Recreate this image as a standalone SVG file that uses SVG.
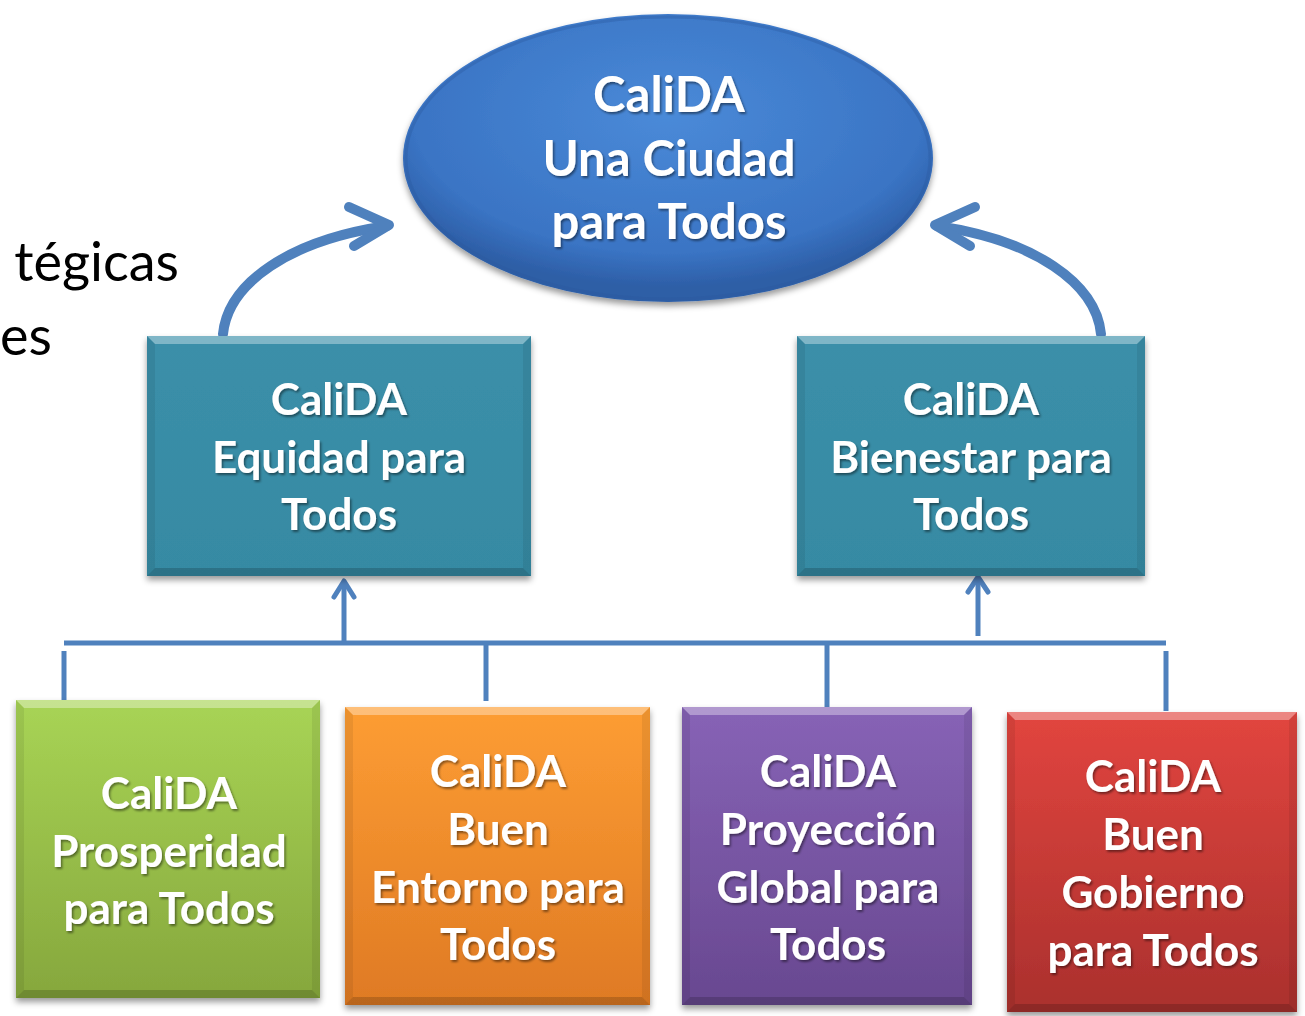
<svg xmlns="http://www.w3.org/2000/svg" width="1305" height="1016" viewBox="0 0 1305 1016">
<defs>
<style>
.lbl{font-family:Lato,"Open Sans","Liberation Sans",sans-serif;font-weight:bold;fill:#fff;text-anchor:middle;filter:url(#tsh)}
.side{font-family:Lato,"Open Sans","Liberation Sans",sans-serif;fill:#000;font-size:54px}
.con{fill:none;stroke:#4f81bd;stroke-width:5}
.arc{fill:none;stroke:#4f81bd;stroke-width:10;stroke-linecap:round;stroke-linejoin:round}
.hi{fill:#fff;opacity:.35}
.lo{fill:#000;opacity:.17}
.sd{fill:#000;opacity:.07}
</style>
<filter id="sh" x="-10%" y="-10%" width="120%" height="125%"><feDropShadow dx="0" dy="4" stdDeviation="3" flood-color="#000" flood-opacity=".4"/></filter>
<filter id="tsh" x="-10%" y="-10%" width="120%" height="130%"><feDropShadow dx="1.5" dy="2" stdDeviation="1.2" flood-color="#000" flood-opacity=".45"/></filter>
<radialGradient id="gE" cx="50%" cy="35%" r="60%"><stop offset="0" stop-color="#4a8ad8"/><stop offset="0.8" stop-color="#3a74c4"/><stop offset="1" stop-color="#2d5ea6"/></radialGradient>
<linearGradient id="gT" x1="0" y1="0" x2="0" y2="1"><stop offset="0" stop-color="#3b8fa9"/><stop offset="1" stop-color="#368aa3"/></linearGradient>
<linearGradient id="gG" x1="0" y1="0" x2="0" y2="1"><stop offset="0" stop-color="#a8d455"/><stop offset="1" stop-color="#86a73d"/></linearGradient>
<linearGradient id="gO" x1="0" y1="0" x2="0" y2="1"><stop offset="0" stop-color="#fd9d33"/><stop offset="1" stop-color="#df7a24"/></linearGradient>
<linearGradient id="gP" x1="0" y1="0" x2="0" y2="1"><stop offset="0" stop-color="#8763b6"/><stop offset="1" stop-color="#684890"/></linearGradient>
<linearGradient id="gR" x1="0" y1="0" x2="0" y2="1"><stop offset="0" stop-color="#e2453f"/><stop offset="1" stop-color="#aa302d"/></linearGradient>
</defs>
<rect width="1305" height="1016" fill="#fff"/>

<text class="side" x="179" y="281" text-anchor="end">tégicas</text>
<text class="side" x="0" y="355" font-size="50">es</text>

<g id="connectors">
<path class="arc" d="M223,334 C228,283 290,240 387,226"/>
<path class="arc" d="M349,207 L389,225 L354,246"/>
<path class="arc" d="M1101,334 C1096,283 1034,240 937,226"/>
<path class="arc" d="M975,207 L935,225 L970,246"/>
<path class="con" d="M64,643 H1166"/>
<path class="con" d="M64,651 V700"/>
<path class="con" d="M486,643 V701"/>
<path class="con" d="M827,643 V707"/>
<path class="con" d="M1166,651 V711"/>
<path class="con" d="M344,643 V581"/>
<path class="con" d="M334,597 L344,581 L354,597" stroke-linecap="round" stroke-linejoin="round"/>
<path class="con" d="M978,636 V577"/>
<path class="con" d="M968,592 L978,577 L988,592" stroke-linecap="round" stroke-linejoin="round"/>
</g>

<g id="n-ciudad">
<ellipse cx="668" cy="158" rx="265" ry="144" fill="url(#gE)" filter="url(#sh)"/>
<ellipse cx="668" cy="158" rx="262" ry="141" fill="none" stroke="#2a5a9e" stroke-opacity=".35" stroke-width="3"/>
<text class="lbl" font-size="49"><tspan x="669" y="112">CaliDA</tspan><tspan x="669" y="176">Una Ciudad</tspan><tspan x="669" y="239">para Todos</tspan></text>
</g>

<g id="n-equidad">
<rect x="147" y="336" width="384" height="240" fill="url(#gT)" filter="url(#sh)"/>
<polygon class="hi" points="147,336 531,336 523,344 155,344"/>
<polygon class="lo" points="147,576 531,576 523,568 155,568"/>
<polygon class="sd" points="147,336 155,344 155,568 147,576"/>
<polygon class="sd" points="531,336 523,344 523,568 531,576"/>
<text class="lbl" font-size="44"><tspan x="339" y="415">CaliDA</tspan><tspan x="339" y="473">Equidad para</tspan><tspan x="339" y="530">Todos</tspan></text>
</g>

<g id="n-bienestar">
<rect x="797" y="336" width="348" height="240" fill="url(#gT)" filter="url(#sh)"/>
<polygon class="hi" points="797,336 1145,336 1137,344 805,344"/>
<polygon class="lo" points="797,576 1145,576 1137,568 805,568"/>
<polygon class="sd" points="797,336 805,344 805,568 797,576"/>
<polygon class="sd" points="1145,336 1137,344 1137,568 1145,576"/>
<text class="lbl" font-size="44"><tspan x="971" y="415">CaliDA</tspan><tspan x="971" y="473">Bienestar para</tspan><tspan x="971" y="530">Todos</tspan></text>
</g>

<g id="n-prosperidad">
<rect x="16" y="700" width="304" height="298" fill="url(#gG)" filter="url(#sh)"/>
<polygon class="hi" points="16,700 320,700 312,708 24,708"/>
<polygon class="lo" points="16,998 320,998 312,990 24,990"/>
<polygon class="sd" points="16,700 24,708 24,990 16,998"/>
<polygon class="sd" points="320,700 312,708 312,990 320,998"/>
<text class="lbl" font-size="44"><tspan x="169" y="809">CaliDA</tspan><tspan x="169" y="867">Prosperidad</tspan><tspan x="169" y="924">para Todos</tspan></text>
</g>

<g id="n-entorno">
<rect x="345" y="707" width="305" height="298" fill="url(#gO)" filter="url(#sh)"/>
<polygon class="hi" points="345,707 650,707 642,715 353,715"/>
<polygon class="lo" points="345,1005 650,1005 642,997 353,997"/>
<polygon class="sd" points="345,707 353,715 353,997 345,1005"/>
<polygon class="sd" points="650,707 642,715 642,997 650,1005"/>
<text class="lbl" font-size="44"><tspan x="498" y="787">CaliDA</tspan><tspan x="498" y="845">Buen</tspan><tspan x="498" y="903">Entorno para</tspan><tspan x="498" y="960">Todos</tspan></text>
</g>

<g id="n-proyeccion">
<rect x="682" y="707" width="290" height="298" fill="url(#gP)" filter="url(#sh)"/>
<polygon class="hi" points="682,707 972,707 964,715 690,715"/>
<polygon class="lo" points="682,1005 972,1005 964,997 690,997"/>
<polygon class="sd" points="682,707 690,715 690,997 682,1005"/>
<polygon class="sd" points="972,707 964,715 964,997 972,1005"/>
<text class="lbl" font-size="44"><tspan x="828" y="787">CaliDA</tspan><tspan x="828" y="845">Proyección</tspan><tspan x="828" y="903">Global para</tspan><tspan x="828" y="960">Todos</tspan></text>
</g>

<g id="n-gobierno">
<rect x="1007" y="712" width="290" height="300" fill="url(#gR)" filter="url(#sh)"/>
<polygon class="hi" points="1007,712 1297,712 1289,720 1015,720"/>
<polygon class="lo" points="1007,1012 1297,1012 1289,1004 1015,1004"/>
<polygon class="sd" points="1007,712 1015,720 1015,1004 1007,1012"/>
<polygon class="sd" points="1297,712 1289,720 1289,1004 1297,1012"/>
<text class="lbl" font-size="44"><tspan x="1153" y="792">CaliDA</tspan><tspan x="1153" y="850">Buen</tspan><tspan x="1153" y="908">Gobierno</tspan><tspan x="1153" y="966">para Todos</tspan></text>
</g>
</svg>
